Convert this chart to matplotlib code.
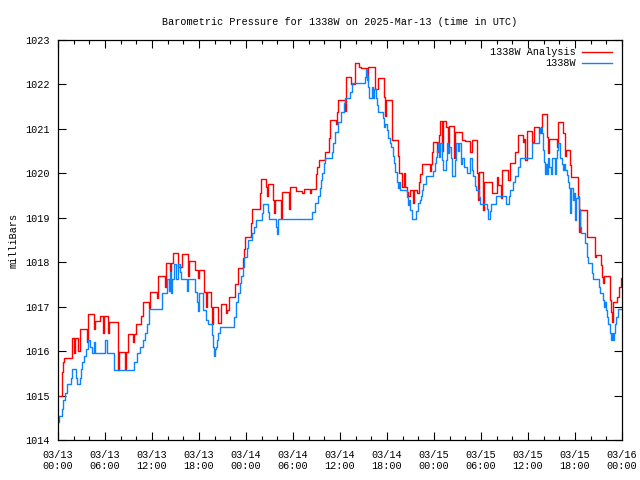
import pandas as pd
import matplotlib
matplotlib.use("Agg")
import matplotlib.pyplot as plt
import matplotlib.dates as mdates

# change points of the step series: hours after 2025-03-13 00:00 UTC, millibars
obs_hours = [0.0, 0.1, 0.5, 0.65, 0.9, 1.15, 1.65, 1.8, 2.3, 2.45, 2.8, 2.95, 3.05, 3.3, 3.6,
             3.85, 4.1, 4.35, 4.6, 4.7, 6.0, 6.25, 7.15, 9.7, 10.1, 10.45, 10.85, 11.1, 11.35,
             11.6, 13.3, 13.9, 14.15, 14.3, 14.4, 14.55, 14.8, 15.05, 15.3, 15.55, 15.7, 16.45,
             16.6, 17.5, 17.75, 17.9, 18.0, 18.5, 18.9, 19.15, 19.65, 19.8, 19.9, 20.05, 20.2,
             20.3, 20.45, 20.7, 22.45, 22.7, 23.0, 23.25, 23.35, 23.6, 23.75, 24.1, 24.25, 24.75,
             25.0, 25.3, 26.05, 26.15, 26.8, 26.95, 27.8, 27.95, 28.1, 32.4, 32.8, 33.2, 33.45,
             33.6, 33.7, 33.95, 34.1, 35.0, 35.1, 35.35, 35.75, 36.1, 36.5, 36.65, 37.3, 37.55,
             39.2, 39.3, 39.45, 39.55, 39.6, 39.7, 40.1, 40.2, 40.35, 40.6, 40.75, 40.85, 41.5,
             41.6, 41.75, 42.0, 42.1, 42.4, 42.5, 42.8, 42.9, 43.05, 43.3, 43.4, 43.55, 43.65,
             44.55, 44.65, 44.8, 44.95, 45.2, 45.7, 45.95, 46.2, 46.35, 46.5, 46.6, 47.0, 47.85,
             48.1, 48.25, 48.4, 48.5, 48.65, 48.8, 49.0, 49.15, 49.5, 49.65, 49.8, 49.9, 50.2,
             50.3, 50.7, 50.8, 51.05, 51.2, 51.4, 51.55, 51.8, 52.2, 52.65, 52.8, 52.95, 53.2,
             53.35, 53.7, 53.85, 54.75, 54.85, 55.15, 55.3, 55.9, 57.2, 57.55, 57.7, 58.1, 58.35,
             58.7, 59.0, 60.5, 61.4, 61.5, 61.8, 61.9, 62.05, 62.15, 62.3, 62.4, 62.55, 62.7,
             62.95, 63.05, 63.45, 63.55, 63.7, 63.8, 64.05, 64.35, 64.45, 64.6, 64.7, 65.0, 65.1,
             65.25, 65.35, 65.45, 65.7, 65.85, 66.0, 66.1, 66.35, 66.5, 66.6, 66.75, 67.3, 67.55,
             67.7, 68.2, 68.3, 69.05, 69.2, 69.6, 69.7, 69.85, 69.95, 70.1, 70.2, 70.5, 70.6,
             70.75, 70.85, 71.0, 71.1, 71.25, 71.5, 72.0]
obs_mb = [1014.4, 1014.55, 1014.7, 1014.9, 1015.05, 1015.25, 1015.4, 1015.6, 1015.4, 1015.25,
          1015.4, 1015.6, 1015.75, 1015.9, 1016.05, 1016.25, 1016.1, 1015.95, 1016.2, 1015.95,
          1016.25, 1015.95, 1015.57, 1015.75, 1015.95, 1016.1, 1016.25, 1016.4, 1016.6, 1016.95,
          1017.3, 1017.62, 1017.35, 1017.78, 1017.3, 1017.62, 1017.95, 1017.62, 1017.95,
          1017.78, 1017.62, 1017.35, 1017.62, 1017.33, 1017.1, 1016.9, 1017.3, 1016.92,
          1016.7, 1016.6, 1016.37, 1016.1, 1015.9, 1016.05, 1016.1, 1016.25, 1016.4, 1016.55,
          1016.77, 1017.1, 1017.3, 1017.53, 1017.7, 1017.9, 1018.12, 1018.32, 1018.5, 1018.65,
          1018.8, 1018.95, 1019.1, 1019.3, 1019.13, 1018.97, 1018.8, 1018.63, 1018.97, 1019.13,
          1019.33, 1019.5, 1019.67, 1019.85, 1020.0, 1020.23, 1020.35, 1020.48, 1020.68,
          1020.93, 1021.15, 1021.38, 1021.58, 1021.7, 1021.83, 1022.03, 1022.17, 1022.35,
          1022.1, 1022.2, 1021.95, 1021.7, 1021.95, 1021.7, 1021.9, 1021.7, 1021.53, 1021.38,
          1021.25, 1021.05, 1021.12, 1020.97, 1020.8, 1020.68, 1020.6, 1020.4, 1020.23,
          1020.03, 1019.8, 1019.67, 1019.8, 1019.63, 1019.47, 1019.28, 1019.4, 1019.17,
          1018.97, 1019.15, 1019.33, 1019.4, 1019.5, 1019.62, 1019.75, 1019.95, 1020.05,
          1020.23, 1020.37, 1020.52, 1020.68, 1020.37, 1020.68, 1020.3, 1020.07, 1020.3,
          1020.68, 1020.45, 1020.6, 1020.35, 1019.95, 1020.3, 1020.68, 1020.5, 1020.68, 1020.2,
          1020.35, 1020.15, 1020.0, 1020.35, 1020.07, 1019.95, 1019.72, 1019.62, 1019.47,
          1019.3, 1019.2, 1018.97, 1019.15, 1019.3, 1019.48, 1019.3, 1019.48, 1019.62, 1019.8,
          1019.95, 1020.15, 1020.35, 1020.68, 1020.9, 1021.02, 1020.9, 1020.53, 1020.25,
          1019.98, 1020.2, 1019.98, 1020.35, 1020.15, 1019.98, 1020.35, 1019.98, 1020.35,
          1020.53, 1020.68, 1020.35, 1020.2, 1020.07, 1020.2, 1020.07, 1019.97, 1019.8,
          1019.67, 1019.1, 1019.67, 1019.4, 1019.55, 1018.95, 1019.45, 1019.5, 1019.2, 1018.8,
          1018.65, 1018.43, 1018.12, 1017.98, 1017.75, 1017.62, 1017.45, 1017.3, 1017.15,
          1017.0, 1017.1, 1016.92, 1016.77, 1016.6, 1016.4, 1016.25, 1016.4, 1016.25, 1016.4,
          1016.6, 1016.77, 1016.95, 1016.95]

ana_hours = [0.0, 0.5, 0.65, 0.75, 1.8, 2.05, 2.15, 2.55, 2.8, 3.7, 3.85, 4.6, 4.7, 5.35, 5.75,
             5.85, 6.4, 6.5, 7.65, 7.8, 8.55, 8.7, 8.95, 9.55, 9.7, 9.95, 10.6, 10.85, 11.6,
             11.75, 12.65, 12.75, 13.65, 13.8, 14.3, 14.45, 14.7, 15.3, 15.85, 16.6, 16.7, 17.5,
             17.9, 18.0, 18.65, 18.9, 19.0, 19.5, 19.65, 19.8, 20.4, 20.8, 21.45, 21.55, 21.8,
             22.6, 23.0, 23.6, 23.75, 23.85, 24.65, 24.75, 25.8, 25.9, 26.6, 26.7, 26.8, 27.45,
             27.55, 27.7, 28.5, 28.65, 29.5, 29.6, 30.4, 31.2, 31.45, 32.2, 32.35, 32.9, 33.05,
             33.35, 34.1, 34.6, 34.7, 35.5, 35.6, 35.75, 36.65, 36.75, 37.4, 37.9, 38.45, 38.7,
             39.45, 39.55, 40.45, 40.85, 41.6, 41.75, 41.85, 42.6, 42.65, 43.4, 43.5, 43.9,
             44.15, 44.3, 44.55, 44.7, 44.95, 45.3, 45.4, 45.85, 46.1, 46.2, 46.5, 47.5, 47.6,
             47.75, 47.85, 48.4, 48.5, 48.6, 48.8, 49.0, 49.15, 49.55, 49.8, 49.9, 50.55, 50.6,
             50.7, 51.55, 51.95, 52.6, 52.85, 53.5, 53.6, 53.7, 54.25, 54.4, 55.4, 56.05, 56.15,
             56.55, 56.7, 57.45, 57.7, 58.35, 58.7, 59.35, 59.45, 59.6, 59.85, 60.5, 60.75, 61.4,
             61.65, 61.8, 62.4, 62.5, 62.65, 63.7, 63.8, 64.45, 64.7, 64.8, 65.35, 65.45, 66.35,
             66.45, 66.6, 67.5, 68.5, 68.65, 69.3, 69.45, 69.6, 69.7, 70.5, 70.6, 70.7, 70.8,
             71.35, 71.6, 71.85, 72.0]
ana_mb = [1015.0, 1015.53, 1015.75, 1015.85, 1016.3, 1015.95, 1016.3, 1016.0, 1016.5, 1016.2,
          1016.83, 1016.5, 1016.68, 1016.8, 1016.4, 1016.8, 1016.4, 1016.65, 1015.57, 1015.97,
          1015.6, 1015.97, 1016.38, 1016.2, 1016.38, 1016.6, 1016.8, 1017.1, 1016.97, 1017.33,
          1017.2, 1017.7, 1017.45, 1017.98, 1017.8, 1017.98, 1018.2, 1017.9, 1018.18, 1017.7,
          1018.03, 1017.82, 1017.65, 1017.82, 1017.33, 1017.0, 1017.33, 1017.0, 1016.6, 1017.0,
          1016.63, 1017.05, 1016.85, 1016.92, 1017.22, 1017.5, 1017.87, 1018.1, 1018.3,
          1018.57, 1018.88, 1019.2, 1019.55, 1019.87, 1019.7, 1019.5, 1019.77, 1019.4, 1019.1,
          1019.4, 1019.0, 1019.58, 1019.2, 1019.7, 1019.6, 1019.55, 1019.65, 1019.55, 1019.65,
          1019.98, 1020.15, 1020.3, 1020.48, 1020.8, 1021.2, 1021.1, 1021.38, 1021.65, 1021.4,
          1022.17, 1022.0, 1022.48, 1022.4, 1022.37, 1022.2, 1022.4, 1021.9, 1022.15, 1021.72,
          1021.3, 1021.65, 1021.3, 1020.75, 1020.4, 1020.0, 1019.7, 1020.0, 1019.7, 1019.58,
          1019.5, 1019.63, 1019.33, 1019.63, 1019.55, 1019.8, 1019.98, 1020.2, 1020.05, 1020.2,
          1020.48, 1020.7, 1020.48, 1020.7, 1020.87, 1021.18, 1020.5, 1021.18, 1021.05,
          1020.48, 1021.07, 1020.92, 1020.35, 1020.92, 1020.75, 1020.73, 1020.48, 1020.75,
          1020.0, 1019.4, 1020.03, 1019.17, 1019.8, 1019.55, 1019.92, 1019.73, 1019.45,
          1020.08, 1019.85, 1020.23, 1020.48, 1020.87, 1020.7, 1020.77, 1020.3, 1020.95,
          1020.7, 1021.05, 1020.9, 1021.05, 1021.33, 1020.82, 1020.45, 1020.78, 1020.6,
          1021.15, 1020.9, 1020.4, 1020.52, 1020.18, 1019.92, 1019.47, 1018.68, 1019.17,
          1018.57, 1018.12, 1018.17, 1017.93, 1017.67, 1017.53, 1017.7, 1017.15, 1016.88,
          1016.65, 1017.1, 1017.22, 1017.45, 1017.65, 1017.65]

start = pd.Timestamp("2025-03-13 00:00")
obs_t = start + pd.to_timedelta(obs_hours, unit="h")
ana_t = start + pd.to_timedelta(ana_hours, unit="h")

plt.rcParams["font.family"] = ["Liberation Mono", "DejaVu Sans Mono"]
plt.rcParams["font.size"] = 7.3

fig = plt.figure(figsize=(6.4, 4.8), dpi=100)
ax = fig.add_axes([58 / 640, 40 / 480, 564 / 640, 400 / 480])

ax.plot(ana_t, ana_mb, drawstyle="steps-post", color="#ff0000", lw=1.0, label="1338W Analysis")
ax.plot(obs_t, obs_mb, drawstyle="steps-post", color="#0a84ff", lw=1.0, label="1338W")

ax.set_xlim(start, start + pd.Timedelta(hours=72))
ax.set_ylim(1014, 1023)
ax.set_yticks(range(1014, 1024))

ax.xaxis.set_major_locator(mdates.HourLocator(byhour=[0, 6, 12, 18]))
ax.xaxis.set_minor_locator(mdates.HourLocator(interval=2))
ax.xaxis.set_major_formatter(mdates.DateFormatter("%m/%d\n%H:%M"))

ax.tick_params(which="both", direction="in", top=True, right=True, colors="black")
ax.tick_params(which="major", length=6, width=0.8)
ax.tick_params(axis="x", which="major", pad=7)
ax.tick_params(axis="y", which="major", pad=6)
ax.tick_params(which="minor", length=3, width=0.8)
for s in ax.spines.values():
    s.set_linewidth(0.9)

ax.set_title("Barometric Pressure for 1338W on 2025-Mar-13 (time in UTC)",
             fontsize=7.3, pad=11)
ax.set_ylabel("milliBars", labelpad=5)

ax.legend(loc="upper right", frameon=False, markerfirst=False, handlelength=3.0,
          handletextpad=0.6, labelspacing=0.1, borderaxespad=0.3,
          bbox_to_anchor=(0.995, 1.0))

fig.savefig("out.png", dpi=100)
